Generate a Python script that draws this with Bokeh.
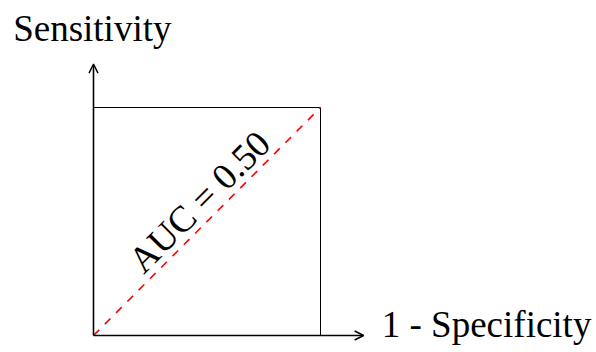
from bokeh.plotting import figure
from bokeh.models import Range1d, Arrow, OpenHead
from bokeh.core.properties import value
from bokeh.embed import file_html
from bokeh.resources import INLINE
import math

# data
roc_fpr = [0.0, 1.0]
roc_tpr = [0.0, 1.0]
box_x = [0.0, 1.0, 1.0]
box_y = [1.0, 1.0, 0.0]
axis_max = 1.19
auc_label = "AUC = 0.50"
x_label = "1 - Specificity"
y_label = "Sensitivity"

W, H = 596, 352
ox, oy = 93, 17         # pixel offset of the origin inside the canvas
sx, sy = 227.0, 228.0   # pixels per unit

p = figure(width=W, height=H, output_backend="svg", toolbar_location=None,
           x_axis_location=None, y_axis_location=None, min_border=0,
           x_range=Range1d(-ox / sx, (W - ox) / sx),
           y_range=Range1d(-oy / sy, (H - oy) / sy))
p.grid.visible = False
p.outline_line_color = None
p.background_fill_color = "white"
p.border_fill_color = "white"

FONT = value("Liberation Serif")

# box (top and right edges)
p.line(box_x, box_y, line_color="black", line_width=1)

# diagonal
p.line(roc_fpr, roc_tpr, line_color="red", line_width=1.6, line_dash="8 8")

# axes with arrows
p.add_layout(Arrow(x_start=0, y_start=0, x_end=axis_max, y_end=0,
                   line_width=1.6, line_color="black",
                   end=OpenHead(size=9, line_width=1.4, line_color="black")))
p.add_layout(Arrow(x_start=0, y_start=0, x_end=0, y_end=axis_max,
                   line_width=1.6, line_color="black",
                   end=OpenHead(size=9, line_width=1.4, line_color="black")))

# labels
p.text(x=[1.27], y=[0.05], text=[x_label], text_font=FONT, text_font_size="37px",
       text_align="left", text_baseline="alphabetic", text_color="black")
p.text(x=[-0.354], y=[1.347], text=[y_label], text_font=FONT, text_font_size="37px",
       text_align="left", text_baseline="alphabetic", text_color="black")
p.text(x=[0.466], y=[0.587], text=[auc_label], text_font=FONT, text_font_size="37px",
       text_align="center", text_baseline="alphabetic", angle=math.pi / 4,
       text_color="black")

open("out.html", "w").write(file_html(p, INLINE))
